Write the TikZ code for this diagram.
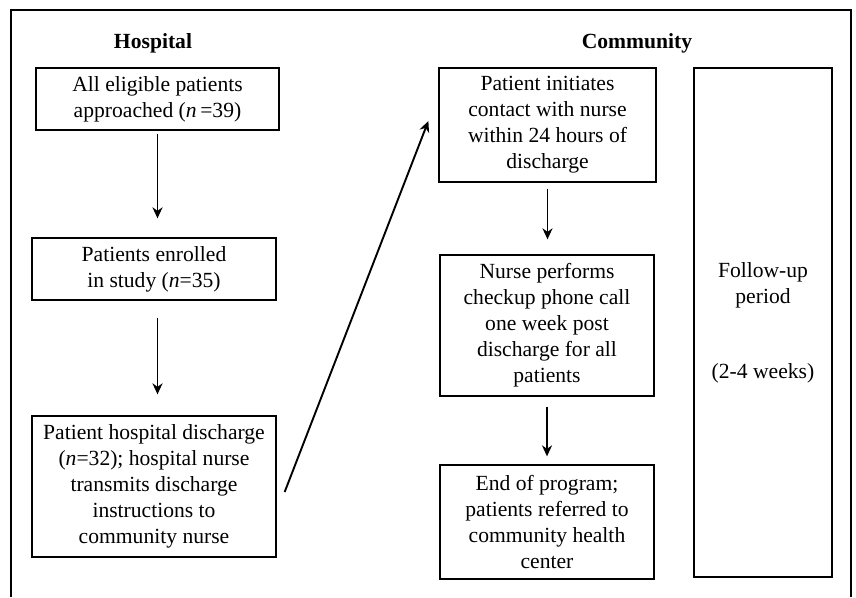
\documentclass[tikz,border=0pt]{standalone}
\usepackage{fontspec}
\setmainfont{Liberation Serif}
\usetikzlibrary{arrows.meta,calc}
\begin{document}
\begin{tikzpicture}[x=1pt,y=-1pt,
  every node/.style={font=\fontsize{21.6}{26}\selectfont, inner sep=0pt},
  box/.style={draw, line width=1.3pt, align=center},
  title/.style={font=\fontsize{21.6}{26}\selectfont\bfseries},
  flow/.style={line width=1.9pt, -{Stealth[length=11pt,width=10pt,inset=3.5pt]}}]
\useasboundingbox (0,0) rectangle (856,597);
% outer frame (open at bottom)
\draw[line width=2pt] (11,597) -- (11,10) -- (851,10) -- (851,597);
\node[title] (th) at (153,43) {Hospital};
\node[title] (tc) at (637,43) {Community};
\node[box, minimum width=243pt, minimum height=62pt] (b1) at (157.5,99)
  {All eligible patients\\approached (\textit{n}\,=39)};
\node[box, minimum width=244pt, minimum height=62pt] (b2) at (154,269)
  {Patients enrolled\\in study (\textit{n}=35)};
\node[box, minimum width=244pt, minimum height=141pt] (b3) at (154,486.5)
  {Patient hospital discharge\\(\textit{n}=32); hospital nurse\\transmits discharge\\instructions to\\community nurse};
\node[box, minimum width=217pt, minimum height=114pt] (b4) at (547.5,125)
  {Patient initiates\\contact with nurse\\within 24 hours of\\discharge};
\node[box, minimum width=214pt, minimum height=141pt] (b5) at (547,325.5)
  {Nurse performs\\checkup phone call\\one week post\\discharge for all\\patients};
\node[box, minimum width=214pt, minimum height=114pt] (b6) at (547,522)
  {End of program;\\patients referred to\\community health\\center};
\node[box, minimum width=138pt, minimum height=509pt] (fu) at (763,322.5)
  {Follow-up\\period\\[49pt](2-4 weeks)};
\draw[flow, shorten <=3pt, shorten >=19pt] (b1.south) -- (b1.south |- b2.north);
\draw[flow, shorten <=17pt, shorten >=21pt] (b1.south |- b2.south) -- (b1.south |- b3.north);
\draw[flow, shorten <=6pt, shorten >=15pt] (b4.south) -- (b4.south |- b5.north);
\draw[flow, shorten <=10pt, shorten >=8pt] (b5.south) -- (b6.north);
\coordinate (ds) at ($(b3.east)+(8,5.5)$);
\coordinate (de) at ($(b4.west)+(-10,-4)$);
\draw[flow] (ds) -- (de);
\end{tikzpicture}
\end{document}
